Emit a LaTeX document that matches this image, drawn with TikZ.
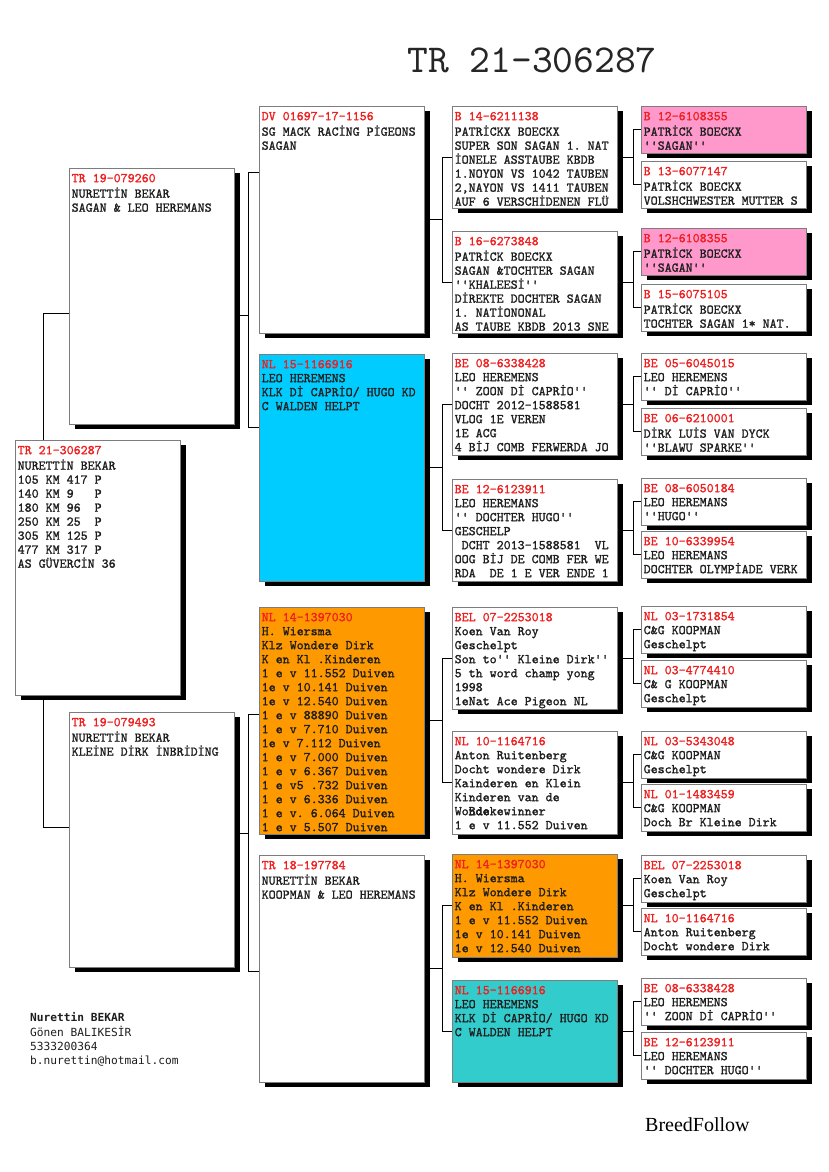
\documentclass[tikz,border=0pt]{standalone}
\usepackage{fontspec}
\newfontfamily\boxfont{lmmono10-regular}[Extension=.otf, FakeBold=1.3]
\newfontfamily\titlefont{lmmono10-regular}[Extension=.otf]
\newfontfamily\dvm{DejaVu Sans Mono}
\newfontfamily\lser{Liberation Serif}
\usetikzlibrary{shadows}
\pgfdeclarelayer{background}
\pgfsetlayers{background,main}
\definecolor{pred}{RGB}{240,30,30}
\definecolor{ink}{RGB}{30,30,30}
\definecolor{boxgray}{RGB}{125,125,125}
\definecolor{cyanbox}{RGB}{0,204,255}
\definecolor{orangebox}{RGB}{255,153,0}
\definecolor{tealbox}{RGB}{51,204,204}
\definecolor{pinkbox}{RGB}{255,153,204}
\tikzset{
  pbox/.style={draw=boxgray, line width=0.8pt, inner sep=0pt, outer sep=0pt,
    drop shadow={shadow xshift=6pt, shadow yshift=-5pt, fill=black, opacity=1}},
  ptext/.style={font=\boxfont\fontsize{13.33}{14}\selectfont\frenchspacing, align=left, inner sep=0pt, text=ink, anchor=north west},
  conn/.style={draw=black, line width=0.8pt},
}
\newcommand\pb[8]{%
  \node[pbox, fill=#6, minimum width=#4pt, minimum height=#5pt, anchor=north west] (#1) at (#2,#3) {};
  \node[ptext] (#1-t) at ([xshift=2.5pt,yshift=-4.2pt]#1.north west) {\strut\textcolor{pred}{#7}\\#8};}
\newcommand\brk[5]{%
  \draw[conn] (#1.east) -- ++(#4,0);
  \draw[conn] (#2.west) -- ++(-#5,0) |- (#3.west);}
\begin{document}
\begin{tikzpicture}[x=1pt,y=-1pt]
\begin{pgfonlayer}{background}
\fill[white] (0,0) rectangle (828,1172);
\end{pgfonlayer}
\useasboundingbox (0,0) rectangle (828,1172);

% Title
\node[font=\titlefont\fontsize{39.6}{44}\selectfont, text=black!85, inner sep=0pt] (title) at (532,60) {TR 21-306287};

% Gen 5
\pb{g5a}{641}{106}{165}{47}{pinkbox}{B 12-6108355}{PATRİCK BOECKX\\''SAGAN''}
\pb{g5b}{641}{161}{165}{47}{white}{B 13-6077147}{PATRİCK BOECKX\\VOLSHCHWESTER MUTTER S}
\pb{g5c}{641}{228}{165}{47}{pinkbox}{B 12-6108355}{PATRİCK BOECKX\\''SAGAN''}
\pb{g5d}{641}{284}{165}{47}{white}{B 15-6075105}{PATRİCK BOECKX\\TOCHTER SAGAN 1* NAT.}
\pb{g5e}{641}{353}{165}{47}{white}{BE 05-6045015}{LEO HEREMENS\\'' Dİ CAPRİO''}
\pb{g5f}{641}{408}{165}{47}{white}{BE 06-6210001}{DİRK LUİS VAN DYCK\\''BLAWU SPARKE''}
\pb{g5g}{641}{478}{165}{47}{white}{BE 08-6050184}{LEO HEREMANS\\''HUGO''}
\pb{g5h}{641}{531}{165}{47}{white}{BE 10-6339954}{LEO HEREMANS\\DOCHTER OLYMPİADE VERK}
\pb{g5i}{641}{606}{165}{47}{white}{NL 03-1731854}{C\&G KOOPMAN\\Geschelpt}
\pb{g5j}{641}{660}{165}{47}{white}{NL 03-4774410}{C\& G KOOPMAN\\Geschelpt}
\pb{g5k}{641}{731}{165}{47}{white}{NL 03-5343048}{C\&G KOOPMAN\\Geschelpt}
\pb{g5l}{641}{784}{165}{47}{white}{NL 01-1483459}{C\&G KOOPMAN\\Doch Br Kleine Dirk}
\pb{g5m}{641}{855}{165}{47}{white}{BEL 07-2253018}{Koen Van Roy\\Geschelpt}
\pb{g5n}{641}{908}{165}{47}{white}{NL 10-1164716}{Anton Ruitenberg\\Docht wondere Dirk}
\pb{g5o}{641}{978}{165}{47}{white}{BE 08-6338428}{LEO HEREMENS\\'' ZOON Dİ CAPRİO''}
\pb{g5p}{641}{1032}{165}{47}{white}{BE 12-6123911}{LEO HEREMANS\\'' DOCHTER HUGO''}

% Gen 4
\pb{g4a}{452}{106}{165}{102}{white}{B 14-6211138}{PATRİCKX BOECKX\\SUPER SON SAGAN 1. NAT\\İONELE ASSTAUBE KBDB\\1.NOYON VS 1042 TAUBEN\\2,NAYON VS 1411 TAUBEN\\AUF 6 VERSCHİDENEN FLÜ}
\pb{g4b}{452}{231}{165}{102}{white}{B 16-6273848}{PATRİCK BOECKX\\SAGAN \&TOCHTER SAGAN\\''KHALEESİ''\\DİREKTE DOCHTER SAGAN\\1. NATİONONAL\\AS TAUBE KBDB 2013 SNE}
\pb{g4c}{452}{353}{165}{102}{white}{BE 08-6338428}{LEO HEREMENS\\'' ZOON Dİ CAPRİO''\\DOCHT 2012-1588581\\VLOG 1E VEREN\\1E ACG\\4 BİJ COMB FERWERDA JO}
\pb{g4d}{452}{479}{165}{102}{white}{BE 12-6123911}{LEO HEREMANS\\'' DOCHTER HUGO''\\GESCHELP\\~DCHT 2013-1588581~~VL\\OOG BİJ DE COMB FER WE\\RDA~~DE 1 E VER ENDE 1}
\pb{g4e}{452}{607}{165}{102}{white}{BEL 07-2253018}{Koen Van Roy\\Geschelpt\\Son to'' Kleine Dirk''\\5 th word champ yong\\1998\\1eNat Ace Pigeon NL}
\pb{g4f}{452}{731}{165}{103}{white}{NL 10-1164716}{Anton Ruitenberg\\Docht wondere Dirk\\Kainderen en Klein\\Kinderen van de\\Wo\rlap{nde}Bdekewinner\\1 e v 11.552 Duiven}
\pb{g4g}{452}{854}{165}{103}{orangebox}{NL 14-1397030}{H. Wiersma\\Klz Wondere Dirk\\K en Kl .Kinderen\\1 e v 11.552 Duiven\\1e v 10.141 Duiven\\1e v 12.540 Duiven}
\pb{g4h}{452}{980}{165}{102}{tealbox}{NL 15-1166916}{LEO HEREMENS\\KLK Dİ CAPRİO/ HUGO KD\\C WALDEN HELPT}

% Gen 3
\pb{g3a}{259}{106}{165}{227}{white}{DV 01697-17-1156}{SG MACK RACİNG PİGEONS\\SAGAN}
\pb{g3b}{259}{354}{165}{227}{cyanbox}{NL 15-1166916}{LEO HEREMENS\\KLK Dİ CAPRİO/ HUGO KD\\C WALDEN HELPT}
\pb{g3c}{259}{607}{165}{227}{orangebox}{NL 14-1397030}{H. Wiersma\\Klz Wondere Dirk\\K en Kl .Kinderen\\1 e v 11.552 Duiven\\1e v 10.141 Duiven\\1e v 12.540 Duiven\\1 e v 88890 Duiven\\1 e v 7.710 Duiven\\1e v 7.112 Duiven\\1 e v 7.000 Duiven\\1 e v 6.367 Duiven\\1 e v5 .732 Duiven\\1 e v 6.336 Duiven\\1 e v. 6.064 Duiven\\1 e v 5.507 Duiven}
\pb{g3d}{259}{855}{165}{227}{white}{TR 18-197784}{NURETTİN BEKAR\\KOOPMAN \& LEO HEREMANS}

% Gen 2
\pb{g2a}{69}{168}{165}{256}{white}{TR 19-079260}{NURETTİN BEKAR\\SAGAN \& LEO HEREMANS}
\pb{g2b}{69}{712}{165}{255}{white}{TR 19-079493}{NURETTİN BEKAR\\KLEİNE DİRK İNBRİDİNG}

% Root
\pb{r}{15}{440}{165}{255}{white}{TR 21-306287}{NURETTİN BEKAR\\105 KM 417 P\\140 KM 9~~~P\\180 KM 96~~P\\250 KM 25~~P\\305 KM 125 P\\477 KM 317 P\\AS GÜVERCİN 36}

% Owner and brand
\node[font=\dvm\fontsize{11.2}{14}\selectfont, align=left, inner sep=0pt, anchor=north west, text=ink] (owner) at (30,1011) {\strut\textbf{Nurettin BEKAR}\\Gönen BALIKESİR\\5333200364\\b.nurettin@hotmail.com};
\node[font=\lser\fontsize{20}{24}\selectfont, inner sep=0pt, anchor=base west, text=black] (brand) at (645,1131.5) {BreedFollow};

% ---------- connectors (behind boxes) ----------
\begin{pgfonlayer}{background}
\draw[conn] ([yshift=-17pt]g2a.west) -| ([xshift=28pt]r.north west);
\draw[conn] ([yshift=12.5pt]g2b.west) -| ([xshift=28pt]r.south west);
\draw[conn] ([yshift=-19pt]g2a.east) -- ++(14,0);
\draw[conn] ([yshift=47pt]g3a.west) -- ++(-11,0) |- ([yshift=40pt]g3b.west);
\draw[conn] ([yshift=6.5pt]g2b.east) -- ++(14,0);
\draw[conn] ([yshift=6.5pt]g3c.west) -- ++(-11,0) |- ([yshift=-2.5pt]g3d.west);
\brk{g3a}{g4a}{g4b}{18}{10}
\brk{g3b}{g4c}{g4d}{18}{10}
\brk{g3c}{g4e}{g4f}{18}{10}
\brk{g3d}{g4g}{g4h}{18}{10}
\brk{g4a}{g5a}{g5b}{16}{8}
\brk{g4b}{g5c}{g5d}{16}{8}
\brk{g4c}{g5e}{g5f}{16}{8}
\brk{g4d}{g5g}{g5h}{16}{8}
\brk{g4e}{g5i}{g5j}{16}{8}
\brk{g4f}{g5k}{g5l}{16}{8}
\brk{g4g}{g5m}{g5n}{16}{8}
\brk{g4h}{g5o}{g5p}{16}{8}
\end{pgfonlayer}
\end{tikzpicture}
\end{document}
